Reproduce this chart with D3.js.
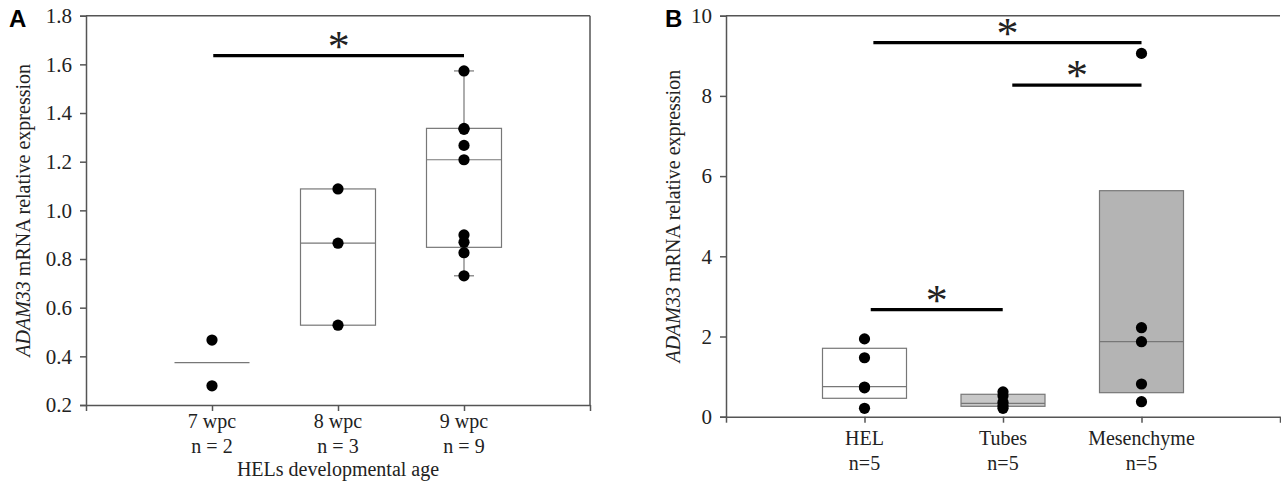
<!DOCTYPE html>
<html>
<head>
<meta charset="utf-8">
<script src="https://d3js.org/d3.v7.min.js"></script>
<style>
  body { margin: 0; background: #fff; }
  svg text { font-family: "Liberation Serif", "Times New Roman", serif; fill: #222; }
  .panel { font-family: "Liberation Sans", Arial, sans-serif; font-weight: bold; fill: #000; }
</style>
</head>
<body>
<svg width="1281" height="485"></svg>
<script>
// ---- panel A data
var ageGroups = ["7 wpc", "8 wpc", "9 wpc"];
var ageCounts = ["n = 2", "n = 3", "n = 9"];
var agePoints = [
  [0.467, 0.279],
  [1.088, 0.865, 0.528],
  [1.573, 1.337, 1.333, 1.267, 1.208, 0.899, 0.869, 0.826, 0.731]
];
// [q1, median, q3, whiskerLow, whiskerHigh] ; null = not drawn
var ageBoxes = [
  [null, 0.374, null, null, null],
  [0.528, 0.865, 1.088, null, null],
  [0.848, 1.208, 1.337, 0.731, 1.573]
];
var ageTicks = [0.2, 0.4, 0.6, 0.8, 1.0, 1.2, 1.4, 1.6, 1.8];
var ageSig = [{from: 1.01, to: 3.0, y: 1.636}];

// ---- panel B data
var tissues = ["HEL", "Tubes", "Mesenchyme"];
var tissueCounts = ["n=5", "n=5", "n=5"];
var tissuePoints = [
  [1.94, 1.47, 0.74, 0.72, 0.21],
  [0.62, 0.52, 0.36, 0.28, 0.21],
  [9.06, 2.22, 1.87, 0.815, 0.374]
];
var tissueBoxes = [
  [0.459, 0.748, 1.706],
  [0.259, 0.334, 0.559],
  [0.599, 1.87, 5.636]
];
var tissueFill = ["#ffffff", "#c8c8c8", "#b4b4b4"];
var tissueTicks = [0, 2, 4, 6, 8, 10];
var tissueSig = [
  {from: 1.064, to: 3.0, y: 9.33},
  {from: 2.067, to: 3.0, y: 8.27},
  {from: 1.045, to: 1.998, y: 2.67}
];

var svg = d3.select("svg");
var axisColor = "#555";

function drawPanel(opt) {
  var g = svg.append("g");
  var x = d3.scaleLinear().domain([0, 4]).range([opt.left, opt.right]);
  var y = d3.scaleLinear().domain(opt.domain).range([opt.bottom, opt.top]);

  // frame
  g.append("line").attr("x1", opt.left).attr("x2", opt.right).attr("y1", opt.top).attr("y2", opt.top)
    .attr("stroke", axisColor).attr("stroke-width", 1.5);
  if (opt.rightFrame) {
    g.append("line").attr("x1", opt.right).attr("x2", opt.right).attr("y1", opt.top).attr("y2", opt.bottom)
      .attr("stroke", axisColor).attr("stroke-width", 1.5);
  }

  var yAxis = g.append("g").attr("transform", "translate(" + opt.left + ",0)")
    .call(d3.axisLeft(y).tickValues(opt.ticks).tickFormat(opt.fmt).tickSize(6).tickPadding(8));
  yAxis.selectAll("path, line").attr("stroke", axisColor).attr("stroke-width", 1.5);
  yAxis.selectAll("text").style("font-size", "21px").style("font-family", "Liberation Serif").attr("fill", "#222");

  var xAxis = g.append("g").attr("transform", "translate(0," + opt.bottom + ")")
    .call(d3.axisBottom(x).tickValues([0, 1, 2, 3, 4]).tickFormat("").tickSize(6).tickSizeOuter(0));
  xAxis.selectAll("path, line").attr("stroke", axisColor).attr("stroke-width", 1.5);

  opt.cats.forEach(function(c, i) {
    g.append("text").attr("x", x(i + 1)).attr("y", opt.bottom + opt.catY)
      .attr("text-anchor", "middle").style("font-size", "20px").text(c);
    g.append("text").attr("x", x(i + 1)).attr("y", opt.bottom + opt.catY + opt.countGap)
      .attr("text-anchor", "middle").style("font-size", "20px").text(opt.counts[i]);
  });

  // boxes
  opt.boxes.forEach(function(b, i) {
    var cx = x(i + 1), hw = opt.boxW / 2;
    var fill = opt.fills ? opt.fills[i] : "#fff";
    if (b[3] != null) {
      g.append("line").attr("x1", cx).attr("x2", cx).attr("y1", y(b[2])).attr("y2", y(b[4]))
        .attr("stroke", "#777").attr("stroke-width", 1.2);
      g.append("line").attr("x1", cx).attr("x2", cx).attr("y1", y(b[0])).attr("y2", y(b[3]))
        .attr("stroke", "#777").attr("stroke-width", 1.2);
      [b[3], b[4]].forEach(function(v) {
        g.append("line").attr("x1", cx - 10).attr("x2", cx + 10).attr("y1", y(v)).attr("y2", y(v))
          .attr("stroke", "#777").attr("stroke-width", 1.2);
      });
    }
    if (b[0] != null) {
      g.append("rect").attr("x", cx - hw).attr("width", opt.boxW)
        .attr("y", y(b[2])).attr("height", y(b[0]) - y(b[2]))
        .attr("fill", fill).attr("stroke", "#777").attr("stroke-width", 1.2);
    }
    g.append("line").attr("x1", cx - hw).attr("x2", cx + hw).attr("y1", y(b[1])).attr("y2", y(b[1]))
      .attr("stroke", "#777").attr("stroke-width", 1.2);
  });

  // points
  opt.points.forEach(function(pts, i) {
    g.selectAll(null).data(pts).enter().append("circle")
      .attr("cx", x(i + 1)).attr("cy", function(d) { return y(d); })
      .attr("r", 5.6).attr("fill", "#000");
  });

  // significance bars
  opt.sig.forEach(function(s) {
    g.append("line").attr("x1", x(s.from)).attr("x2", x(s.to)).attr("y1", y(s.y)).attr("y2", y(s.y))
      .attr("stroke", "#000").attr("stroke-width", 3.2);
    g.append("text").attr("x", (x(s.from) + x(s.to)) / 2).attr("y", y(s.y) + 5)
      .attr("text-anchor", "middle").style("font-size", "44px").attr("fill", "#000").text("*");
  });

  // y label
  var yl = g.append("text").attr("transform", "translate(" + opt.ylabX + "," + ((opt.top + opt.bottom) / 2) + ") rotate(-90)")
    .attr("text-anchor", "middle").style("font-size", "20px");
  yl.append("tspan").style("font-style", "italic").text("ADAM33");
  yl.append("tspan").text(" mRNA relative expression");

  if (opt.xTitle) {
    g.append("text").attr("x", (opt.left + opt.right) / 2).attr("y", opt.bottom + opt.xTitleY)
      .attr("text-anchor", "middle").style("font-size", "20px").text(opt.xTitle);
  }

  g.append("text").attr("class", "panel").attr("x", opt.letterX).attr("y", 27)
    .style("font-size", "24px").text(opt.letter);
}

drawPanel({
  left: 86, right: 590, top: 15.7, bottom: 405,
  domain: [0.2, 1.8], ticks: ageTicks, fmt: d3.format(".1f"),
  cats: ageGroups, counts: ageCounts, catY: 23, countGap: 25,
  boxes: ageBoxes, points: agePoints, sig: ageSig, boxW: 75,
  ylabX: 30, xTitle: "HELs developmental age", xTitleY: 71,
  letter: "A", letterX: 9, rightFrame: true
});

drawPanel({
  left: 726, right: 1280, top: 15.7, bottom: 416.7,
  domain: [0, 10], ticks: tissueTicks, fmt: d3.format("d"),
  cats: tissues, counts: tissueCounts, catY: 28, countGap: 25,
  boxes: tissueBoxes, points: tissuePoints, sig: tissueSig, boxW: 84, fills: tissueFill,
  ylabX: 680, xTitle: null,
  letter: "B", letterX: 665, rightFrame: false
});
</script>
</body>
</html>
